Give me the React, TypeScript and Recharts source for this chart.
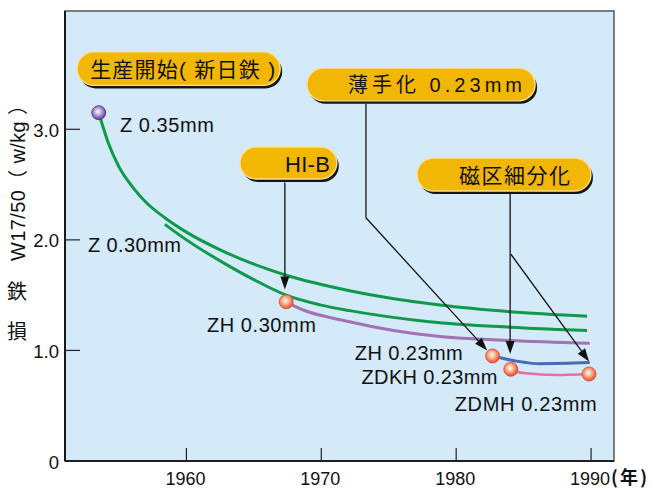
import {
  ComposedChart, Line, Scatter, XAxis, YAxis, CartesianGrid,
  ReferenceArea, ReferenceLine, ReferenceDot,
} from "recharts";

// axis
const xTicks = [1960, 1970, 1980, 1990];
const yTicks = [0, 1, 2, 3];

// Z 0.35mm
const z035Years = [1953.5, 1954.2, 1955.0, 1956.0, 1957.0, 1958.4, 1960.0, 1962.5, 1965.0, 1967.4, 1972.1, 1978.8, 1984.0, 1989.7];
const z035Loss = [3.15, 2.88, 2.66, 2.48, 2.34, 2.2, 2.07, 1.91, 1.78, 1.68, 1.54, 1.41, 1.35, 1.31];

// Z 0.30mm
const z030Years = [1958.4, 1960.0, 1962.5, 1965.0, 1967.4, 1970.0, 1972.1, 1978.0, 1984.0, 1989.7];
const z030Loss = [2.14, 2.0, 1.81, 1.64, 1.5, 1.41, 1.36, 1.26, 1.21, 1.18];

// ZH 0.30mm (HI-B)
const zh030Years = [1967.4, 1968.0, 1972.1, 1978.8, 1984.0, 1989.9];
const zh030Loss = [1.44, 1.4, 1.26, 1.125, 1.09, 1.065];

// ZH 0.23mm
const zh023Years = [1982.7, 1984.4, 1986.2, 1989.9];
const zh023Loss = [0.95, 0.905, 0.88, 0.89];

// ZDKH 0.23mm -> ZDMH 0.23mm
const zdkhYears = [1984.05, 1984.5, 1985.2, 1987.4, 1989.85];
const zdkhLoss = [0.83, 0.808, 0.793, 0.778, 0.787];

const toRows = (years: number[], loss: number[]) =>
  years.map((year, i) => ({ year, value: loss[i] }));

const markers = [
  { year: z035Years[0], value: z035Loss[0], tone: "violet" },
  { year: zh030Years[0], value: zh030Loss[0], tone: "red" },
  { year: zh023Years[0], value: zh023Loss[0], tone: "red" },
  { year: zdkhYears[0], value: zdkhLoss[0], tone: "red" },
  { year: zdkhYears[zdkhYears.length - 1], value: zdkhLoss[zdkhLoss.length - 1], tone: "red" },
];

// annotations (data coordinates)
const callouts = [
  { text: "生産開始( 新日鉄 )", x1: 1951.9, x2: 1967.1, y1: 3.37, y2: 3.7, dx: 13, size: 21, len: 185 },
  { text: "薄手化 0.23mm", x1: 1968.94, x2: 1986.0, y1: 3.23, y2: 3.555, dx: 41, size: 20, len: 174 },
  { text: "HI-B", x1: 1963.97, x2: 1971.3, y1: 2.523, y2: 2.84, dx: 45, size: 22, len: 45 },
  { text: "磁区細分化", x1: 1977.1, x2: 1990.14, y1: 2.415, y2: 2.74, dx: 42, size: 21, len: 111 },
];

const arrows = [
  { from: [1967.3, 2.52], to: [1967.3, 1.55], head: true },
  { from: [1973.31, 3.23], to: [1973.31, 2.2], head: false },
  { from: [1973.31, 2.2], to: [1982.3, 1.0], head: true },
  { from: [1984.0, 2.415], to: [1984.0, 0.968], head: true },
  { from: [1984.06, 1.87], to: [1989.85, 0.9], head: true },
];

const gradeLabels = [
  { text: "Z 0.35mm", x: 1955.07, y: 2.98, len: 94 },
  { text: "Z 0.30mm", x: 1952.7, y: 1.889, len: 93 },
  { text: "ZH 0.30mm", x: 1961.52, y: 1.167, len: 109 },
  { text: "ZH 0.23mm", x: 1972.48, y: 0.914, len: 108 },
  { text: "ZDKH 0.23mm", x: 1972.98, y: 0.694, len: 136 },
  { text: "ZDMH 0.23mm", x: 1979.89, y: 0.455, len: 142 },
];

const FONT = "'Liberation Sans', Arial, 'Noto Sans CJK JP', sans-serif";

const XTick = (p: any) => (
  <g>
    <line x1={p.x} y1={p.y} x2={p.x} y2={p.y - 13} stroke="#222" strokeWidth={1.2} />
    <text x={p.x - 1} y={p.y + 24} textAnchor="middle" fontSize={18} fontFamily={FONT} fill="#111">
      {p.payload.value}
    </text>
  </g>
);

const YTick = (p: any) => (
  <g>
    <line x1={p.x} y1={p.y} x2={p.x + 15} y2={p.y} stroke="#222" strokeWidth={1.2} />
    <text x={p.x - 6} y={p.y + 1} textAnchor="end" dominantBaseline="central" fontSize={18.5} fontFamily={FONT} fill="#111">
      {p.payload.value === 0 ? "0" : p.payload.value.toFixed(1)}
    </text>
  </g>
);

const YTitle = (p: any) => {
  const vb = p.viewBox;
  const cx = vb.x + 13;
  return (
    <g fontFamily={FONT} fill="#111" fontSize={20}>
      <text
        x={cx}
        y={178}
        textAnchor="middle"
        dominantBaseline="central"
        transform={`rotate(-90 ${cx} 178)`}
        textLength={166}
        lengthAdjust="spacing"
      >
        W17/50（ w/kg ）
      </text>
      <text x={cx - 1} y={292} textAnchor="middle" dominantBaseline="central">鉄</text>
      <text x={cx - 1} y={332} textAnchor="middle" dominantBaseline="central">損</text>
    </g>
  );
};

const YearUnit = (p: any) => {
  const vb = p.viewBox;
  return (
    <text
      x={vb.x + vb.width - 3}
      y={vb.y + 23}
      fontSize={18}
      fontWeight="bold"
      fontFamily="'Noto Sans CJK JP', sans-serif"
      fill="#111"
      textLength={36}
      lengthAdjust="spacing"
    >
      (年)
    </text>
  );
};

const Marker = (p: any) => {
  const violet = p.payload.tone === "violet";
  const id = violet ? "dotViolet" : "dotRed";
  return (
    <g>
      <defs>
        <radialGradient id={id} cx="45%" cy="42%" r="60%">
          <stop offset="0%" stopColor="#ffffff" />
          <stop offset="45%" stopColor={violet ? "#b9a0d8" : "#f9ad88"} />
          <stop offset="100%" stopColor={violet ? "#4f3388" : "#e4432a"} />
        </radialGradient>
      </defs>
      <circle cx={p.cx} cy={p.cy} r={7} fill={`url(#${id})`} stroke={violet ? "#4b2f80" : "#dd4a30"} strokeWidth={0.8} />
    </g>
  );
};

const pillShape = (c: typeof callouts[number]) => (p: any) => {
  const { x, y, width, height } = p;
  const w = width - 2;
  const h = height - 3;
  return (
    <g>
      <rect x={x + 2} y={y + 3} width={w} height={h} rx={h / 2} fill="#151515" />
      <rect x={x} y={y} width={w} height={h} rx={h / 2} fill="#F2B705" stroke="#F9DF98" strokeWidth={1.4} />
      <text
        x={x + c.dx}
        y={y + h / 2 + 1}
        dominantBaseline="central"
        fontSize={c.size}
        fontFamily={FONT}
        fill="#111"
        textLength={c.len}
        lengthAdjust="spacing"
      >
        {c.text}
      </text>
    </g>
  );
};

const arrowShape = (head: boolean) => (p: any) => {
  const { x1, y1, x2, y2 } = p;
  const dx = x2 - x1;
  const dy = y2 - y1;
  const len = Math.hypot(dx, dy) || 1;
  const ux = dx / len;
  const uy = dy / len;
  const hl = 13;
  const hw = 4.5;
  const bx = x2 - ux * hl;
  const by = y2 - uy * hl;
  return (
    <g>
      <line x1={x1} y1={y1} x2={head ? bx : x2} y2={head ? by : y2} stroke="#111" strokeWidth={1.3} />
      {head && (
        <polygon
          points={`${x2},${y2} ${bx - uy * hw},${by + ux * hw} ${bx + uy * hw},${by - ux * hw}`}
          fill="#111"
        />
      )}
    </g>
  );
};

const textShape = (g: typeof gradeLabels[number]) => (p: any) => (
  <text x={p.cx} y={p.cy} fontSize={20} fontFamily={FONT} fill="#111" textLength={g.len} lengthAdjust="spacing">
    {g.text}
  </text>
);

export default function App() {
  return (
    <div style={{ position: "absolute", left: 0, top: 0, background: "#fff" }}>
      <ComposedChart width={651} height={489} margin={{ top: 11, right: 37, bottom: 0, left: 5 }}>
        <CartesianGrid fill="#D4EAF8" horizontal={false} vertical={false} />
        <ReferenceArea x1={1951} x2={1991.7} y1={0} y2={4.07} fill="none" stroke="#555" strokeWidth={1.5} ifOverflow="visible" />
        <XAxis
          type="number"
          dataKey="year"
          domain={[1951, 1991.7]}
          ticks={xTicks}
          interval={0}
          allowDataOverflow
          height={28}
          tickLine={false}
          tickSize={0}
          tickMargin={0}
          tick={XTick}
          axisLine={{ stroke: "#000", strokeWidth: 1.6 }}
          label={{ content: YearUnit }}
        />
        <YAxis
          type="number"
          dataKey="value"
          domain={[0, 4.07]}
          ticks={yTicks}
          interval={0}
          allowDataOverflow
          width={60}
          tickLine={false}
          tickSize={0}
          tickMargin={0}
          tick={YTick}
          axisLine={{ stroke: "#000", strokeWidth: 1.6 }}
          label={{ content: YTitle }}
        />
        <Line data={toRows(z035Years, z035Loss)} dataKey="value" type="monotone" stroke="#10994A" strokeWidth={3} dot={false} activeDot={false} isAnimationActive={false} />
        <Line data={toRows(z030Years, z030Loss)} dataKey="value" type="monotone" stroke="#10994A" strokeWidth={3} dot={false} activeDot={false} isAnimationActive={false} />
        <Line data={toRows(zh030Years, zh030Loss)} dataKey="value" type="monotone" stroke="#A273B3" strokeWidth={3} dot={false} activeDot={false} isAnimationActive={false} />
        <Line data={toRows(zh023Years, zh023Loss)} dataKey="value" type="monotone" stroke="#4A6CB4" strokeWidth={3} dot={false} activeDot={false} isAnimationActive={false} />
        <Line data={toRows(zdkhYears, zdkhLoss)} dataKey="value" type="monotone" stroke="#EB6EA0" strokeWidth={2.6} dot={false} activeDot={false} isAnimationActive={false} />
        {arrows.map((a, i) => (
          <ReferenceLine
            key={`a${i}`}
            segment={[{ x: a.from[0], y: a.from[1] }, { x: a.to[0], y: a.to[1] }]}
            shape={arrowShape(a.head)}
            ifOverflow="visible"
          />
        ))}
        <Scatter data={markers} dataKey="value" shape={Marker} isAnimationActive={false} />
        {callouts.map((c, i) => (
          <ReferenceArea key={`c${i}`} x1={c.x1} x2={c.x2} y1={c.y1} y2={c.y2} shape={pillShape(c)} ifOverflow="visible" />
        ))}
        {gradeLabels.map((g, i) => (
          <ReferenceDot key={`g${i}`} x={g.x} y={g.y} r={0} shape={textShape(g)} ifOverflow="visible" />
        ))}
      </ComposedChart>
    </div>
  );
}
